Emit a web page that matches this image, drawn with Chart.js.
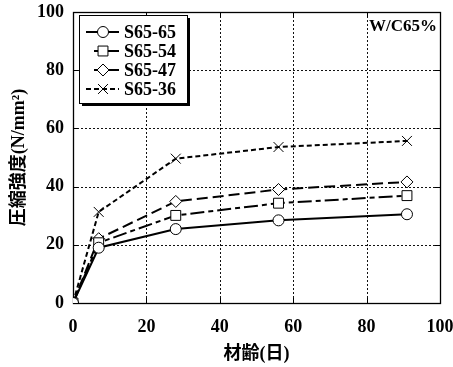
<!DOCTYPE html>
<html>
<head>
<meta charset="utf-8">
<script src="https://cdn.jsdelivr.net/npm/chart.js@4"></script>
<style>html,body{margin:0;padding:0;background:#fff;overflow:hidden}canvas{display:block}</style>
</head>
<body>
<canvas id="c" width="453" height="367"></canvas>
<script>
// 材齢(日) and strength values
const ages = [0, 7, 28, 56, 91];
const s6565 = [0, 19.0, 25.4, 28.4, 30.5];
const s6554 = [0, 20.7, 30.1, 34.3, 36.9];
const s6547 = [0, 22.1, 34.9, 39.0, 41.6];
const s6536 = [0, 31.3, 49.6, 53.6, 55.7];
const seriesNames = ['S65-65', 'S65-54', 'S65-47', 'S65-36'];
const axisTicks = [0, 20, 40, 60, 80, 100];
const xTitle = '材齢(日)';
const yTitle = '圧縮強度(N/mm²)';
const note = 'W/C65%';

const SERIF = "'Liberation Serif', 'Noto Sans CJK JP', serif";

function pts(ys) {
  return ages.map((a, i) => ({ x: a, y: ys[i] }));
}

function drawMark(ctx, style, r, x, y) {
  ctx.beginPath();
  if (style === 'circle') {
    ctx.arc(x, y, r, 0, Math.PI * 2);
  } else if (style === 'rect') {
    const s = r * Math.SQRT1_2;
    ctx.rect(x - s, y - s, 2 * s, 2 * s);
  } else if (style === 'rectRot') {
    ctx.moveTo(x, y - r); ctx.lineTo(x + r, y); ctx.lineTo(x, y + r); ctx.lineTo(x - r, y); ctx.closePath();
  } else {
    const s = r * Math.SQRT1_2;
    ctx.moveTo(x - s, y - s); ctx.lineTo(x + s, y + s);
    ctx.moveTo(x + s, y - s); ctx.lineTo(x - s, y + s);
  }
  ctx.fill();
  ctx.stroke();
}

// dotted grid, plot frame and small inward ticks
const frame = {
  id: 'frame',
  beforeDatasetsDraw(chart) {
    const { ctx, chartArea: a, scales } = chart;
    const xs = axisTicks.map(v => Math.round(scales.x.getPixelForValue(v)));
    const ys = axisTicks.map(v => Math.round(scales.y.getPixelForValue(v)));
    const top = Math.round(a.top), bottom = Math.round(a.bottom);
    const left = Math.round(a.left), right = Math.round(a.right);
    ctx.save();
    ctx.fillStyle = '#111';
    xs.forEach(px => { for (let py = top; py < bottom; py += 4) ctx.fillRect(px, py, 1, 2); });
    ys.forEach(py => { for (let px = left; px < right; px += 4) ctx.fillRect(px, py, 2, 1); });
    ctx.fillStyle = '#000';
    xs.forEach(px => {
      ctx.fillRect(px, bottom - 5, 1, 5);
      ctx.fillRect(px, top, 1, 5);
    });
    ys.forEach(py => {
      ctx.fillRect(left, py, 5, 1);
      ctx.fillRect(right - 5, py, 5, 1);
    });
    ctx.strokeStyle = '#000';
    ctx.lineWidth = 1.3;
    ctx.strokeRect(left + 0.5, top + 0.5, right - left, bottom - top);
    ctx.restore();
  }
};

const legendBox = {
  id: 'legendBox',
  afterDraw(chart) {
    const ctx = chart.ctx;
    const x = 79, y = 15, w = 108, h = 88;
    ctx.save();
    ctx.fillStyle = '#000';
    ctx.fillRect(x + 3, y + 3, w, h);
    ctx.fillStyle = '#fff';
    ctx.fillRect(x, y, w, h);
    ctx.strokeStyle = '#000';
    ctx.lineWidth = 1;
    ctx.strokeRect(x + 0.5, y + 0.5, w, h);
    chart.data.datasets.forEach((ds, i) => {
      const cy = 32 + i * 19;
      ctx.strokeStyle = '#000';
      ctx.lineWidth = ds.borderWidth;
      ctx.setLineDash(i === 3 ? [5, 3] : []);
      ctx.beginPath();
      ctx.moveTo(i === 0 || i === 3 ? 86 : 94, cy);
      ctx.lineTo(119, cy);
      ctx.stroke();
      ctx.setLineDash([]);
      ctx.lineWidth = 1;
      ctx.fillStyle = '#fff';
      drawMark(ctx, ds.pointStyle, ds.pointRadius, 103, cy);
      ctx.fillStyle = '#000';
      ctx.font = 'bold 18px ' + SERIF;
      ctx.textAlign = 'left';
      ctx.textBaseline = 'middle';
      ctx.fillText(ds.label, 124, cy + 1);
    });
    ctx.font = 'bold 17px ' + SERIF;
    ctx.textAlign = 'right';
    ctx.fillText(note, 437, 27);
    ctx.restore();
  }
};

const styles = [
  { style: 'circle', r: 5.5, dash: [] },
  { style: 'rect', r: 7, dash: [14, 4, 5, 4] },
  { style: 'rectRot', r: 6, dash: [11, 5] },
  { style: 'crossRot', r: 7, dash: [5, 3] }
];
const values = [s6565, s6554, s6547, s6536];

new Chart(document.getElementById('c'), {
  type: 'line',
  data: {
    datasets: values.map((v, i) => ({
      label: seriesNames[i],
      data: pts(v),
      borderColor: '#000',
      borderWidth: 2,
      borderDash: styles[i].dash,
      pointStyle: styles[i].style,
      pointRadius: styles[i].r,
      pointBorderWidth: 1,
      pointBorderColor: '#000',
      pointBackgroundColor: '#fff',
      tension: 0,
      fill: false
    }))
  },
  options: {
    responsive: false,
    animation: false,
    layout: { padding: { left: 0, right: 13, top: 12, bottom: 0 } },
    plugins: { legend: { display: false }, tooltip: { enabled: false } },
    scales: {
      x: {
        type: 'linear', min: 0, max: 100,
        ticks: { stepSize: 20, color: '#000', padding: 14, font: { family: SERIF, size: 18, weight: 'bold' } },
        grid: { display: false, drawTicks: false },
        border: { display: false },
        title: { display: true, text: xTitle, color: '#000', padding: { top: 0, bottom: 2 }, font: { family: SERIF, size: 18, weight: 'bold' } },
        afterFit: s => { s.height = 64; s.paddingLeft = 0; s.paddingRight = 0; }
      },
      y: {
        type: 'linear', min: 0, max: 100,
        ticks: { stepSize: 20, color: '#000', padding: 9, font: { family: SERIF, size: 18, weight: 'bold' } },
        grid: { display: false, drawTicks: false },
        border: { display: false },
        title: { display: true, text: yTitle, color: '#000', padding: { top: 9, bottom: 0 }, font: { family: SERIF, size: 18, weight: 'bold' } },
        afterFit: s => { s.width = 73; s.paddingTop = 0; s.paddingBottom = 0; }
      }
    }
  },
  plugins: [frame, legendBox]
});
</script>
</body>
</html>
